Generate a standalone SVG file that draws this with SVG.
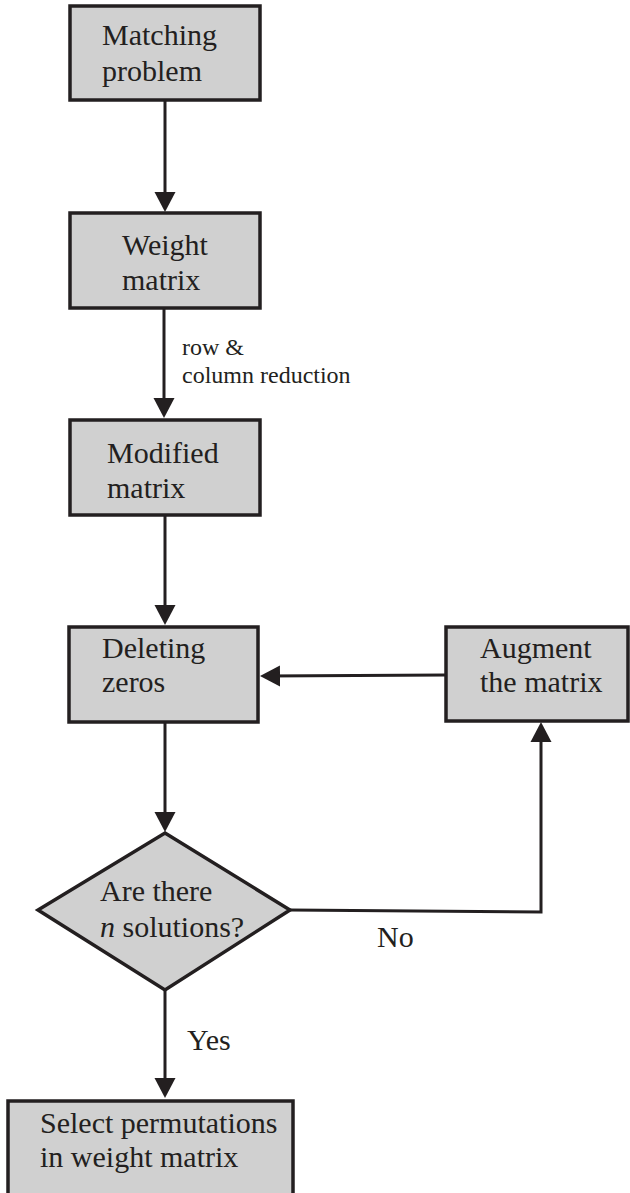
<svg xmlns="http://www.w3.org/2000/svg" width="630" height="1193" viewBox="0 0 630 1193">
<defs>
<style>
.box{fill:#d0d0d0;stroke:#231f20;stroke-width:3.5}
text{font-family:'Liberation Serif','Times New Roman',Times,'DejaVu Serif',serif;fill:#231f20}
.t{font-size:30px}
.s{font-size:24px}
.c{fill:none;stroke:#231f20;stroke-width:3}
</style>
<marker id="ah" markerUnits="userSpaceOnUse" markerWidth="21" markerHeight="22" refX="14" refY="10.5" orient="auto" viewBox="0 0 21 21">
<path d="M0,0 L20,10.5 L0,21 z" fill="#231f20"/>
</marker>
</defs>
<rect width="630" height="1193" fill="#ffffff"/>
<g id="connectors" font-family="Liberation Serif, serif">
<line class="c" x1="165" y1="100" x2="165" y2="206" marker-end="url(#ah)"/>
<line class="c" x1="164" y1="308" x2="164" y2="412" marker-end="url(#ah)"/>
<line class="c" x1="165" y1="515" x2="165" y2="619" marker-end="url(#ah)"/>
<line class="c" x1="165" y1="722" x2="165" y2="826" marker-end="url(#ah)"/>
<line class="c" x1="165" y1="990" x2="165" y2="1092" marker-end="url(#ah)"/>
<polyline class="c" points="290,910 541,912 541,728" marker-end="url(#ah)"/>
<line class="c" x1="446" y1="675" x2="266" y2="676" marker-end="url(#ah)"/>
<text class="s" x="182" y="355">row &amp;</text>
<text class="s" x="182" y="383">column reduction</text>
<text class="t" x="377" y="947">No</text>
<text class="t" x="187" y="1050">Yes</text>
</g>
<g id="matching">
<rect class="box" x="70" y="6" width="190" height="94"/>
<text class="t" x="102" y="45">Matching</text>
<text class="t" x="102" y="81">problem</text>
</g>
<g id="weight">
<rect class="box" x="70" y="213" width="190" height="95"/>
<text class="t" x="122" y="255">Weight</text>
<text class="t" x="122" y="290">matrix</text>
</g>
<g id="modified">
<rect class="box" x="70" y="420" width="190" height="95"/>
<text class="t" x="107" y="463">Modified</text>
<text class="t" x="107" y="498">matrix</text>
</g>
<g id="deleting">
<rect class="box" x="69" y="627" width="189" height="95"/>
<text class="t" x="102" y="658">Deleting</text>
<text class="t" x="102" y="692">zeros</text>
</g>
<g id="augment">
<rect class="box" x="446" y="627" width="182" height="94"/>
<text class="t" x="480" y="658">Augment</text>
<text class="t" x="480" y="692">the matrix</text>
</g>
<g id="decision">
<polygon class="box" points="165,833 290,910 165,990 38,910"/>
<text class="t" x="100" y="901">Are there</text>
<text class="t" x="100" y="937"><tspan font-style="italic">n</tspan> solutions?</text>
</g>
<g id="select">
<rect class="box" x="8" y="1101" width="285" height="96"/>
<text class="t" x="40" y="1133">Select permutations</text>
<text class="t" x="40" y="1167">in weight matrix</text>
</g>
</svg>
